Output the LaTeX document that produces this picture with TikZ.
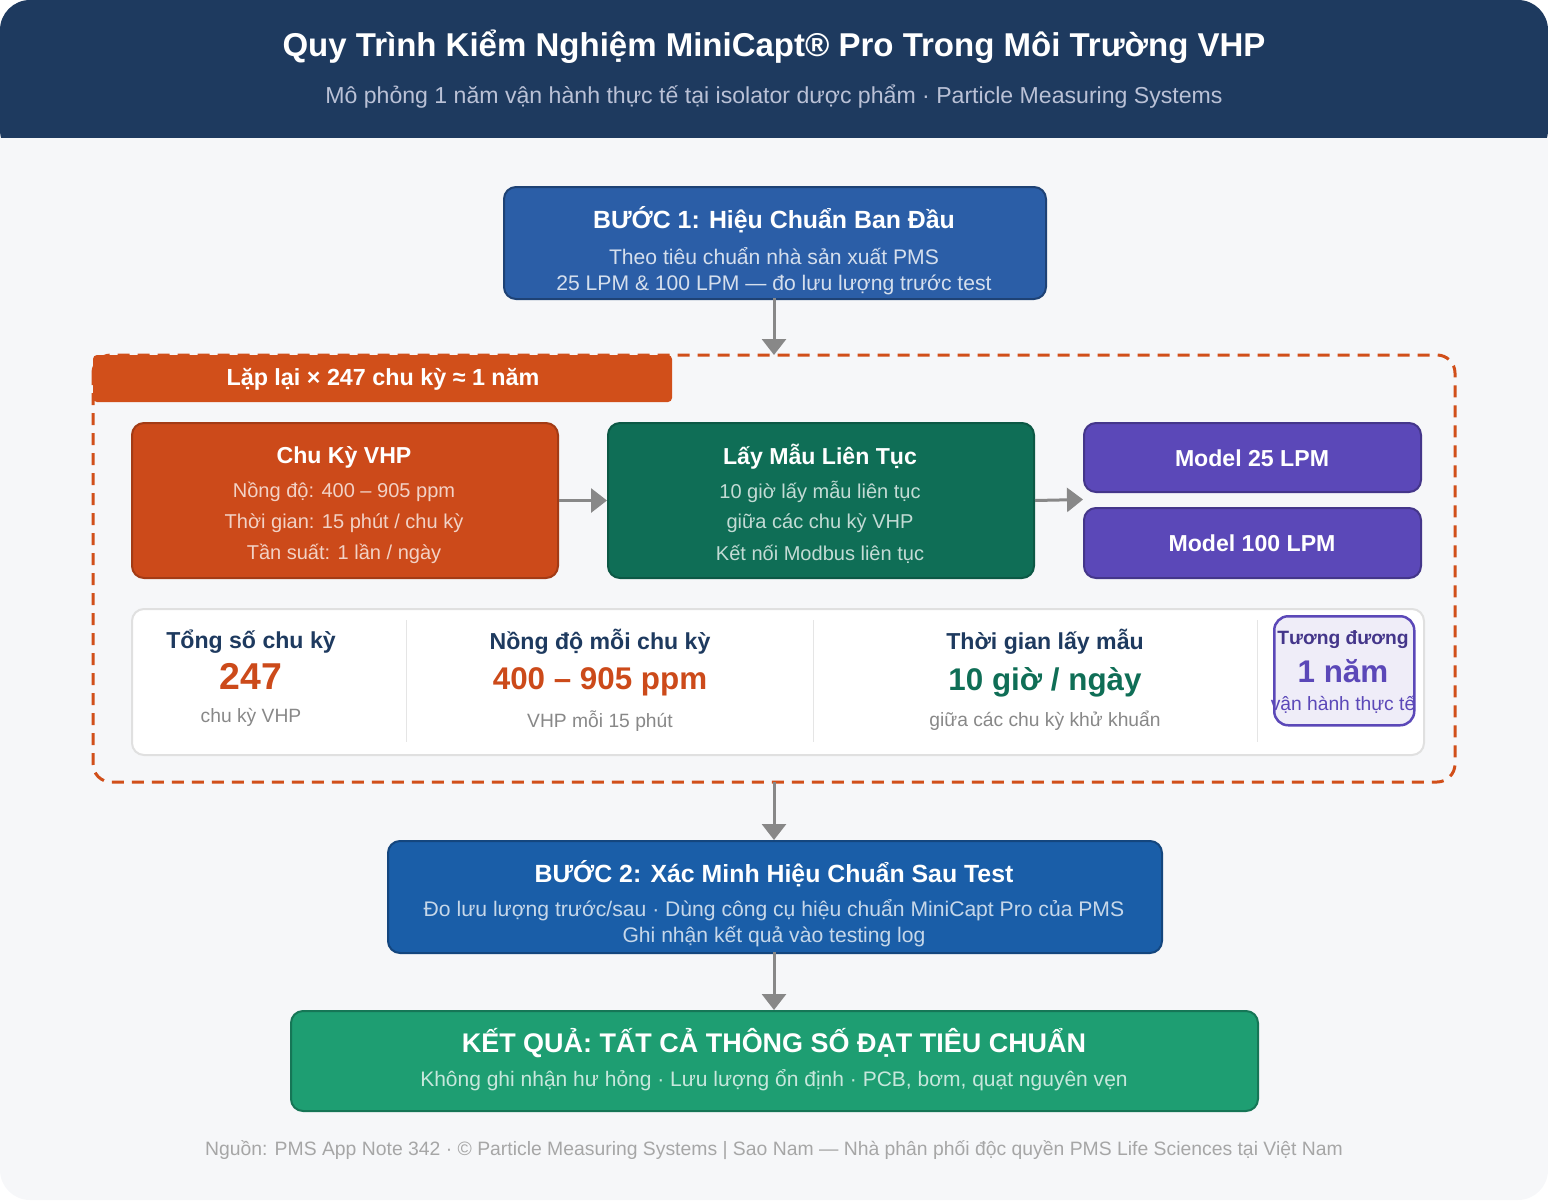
\documentclass[tikz,border=0pt]{standalone}
\usepackage{fontspec}
\setmainfont{Liberation Sans}
\usetikzlibrary{arrows.meta}
\definecolor{navy}{HTML}{1E3A5F}
\definecolor{pagebg}{HTML}{F6F7F9}
\definecolor{stepblue}{HTML}{2B5EA7}
\definecolor{steptwo}{HTML}{1A5EA8}
\definecolor{vhporange}{HTML}{CC4A1A}
\definecolor{dashorange}{HTML}{D14F1A}
\definecolor{samplegreen}{HTML}{0F6E56}
\definecolor{modelpurple}{HTML}{5B48B8}
\definecolor{resultgreen}{HTML}{1E9E72}
\definecolor{flowgrey}{HTML}{888888}
\newcommand{\fs}[1]{\fontsize{\fpeval{#1*1.1}}{\fpeval{#1*1.1}}\selectfont}
\tikzset{
  box/.style={draw, line width=2pt, rounded corners=12pt, anchor=north west, inner sep=0pt},
  flow/.style={draw=flowgrey, line width=3pt, -{Triangle[width=24pt,length=16pt]}},
  txt/.style={inner sep=0pt, anchor=center}
}
\begin{document}
\begin{tikzpicture}[x=1pt,y=-1pt]
	\useasboundingbox (0,0) rectangle (1548,1200);
	\fill [pagebg, rounded corners=30pt] (0,0) rectangle (1548,1200);
	\fill [navy, rounded corners=30pt] (0,0) rectangle (1548,160);
	\fill [pagebg] (0,138) rectangle (1548,170);
	\node [txt, white] (title) at (774,47) {\fs{30}\bfseries Quy Trình Kiểm Nghiệm MiniCapt® Pro Trong Môi Trường VHP};
	\node [txt, text=blue!15!navy!30!white] (subtitle) at (774,97) {\fs{21}Mô phỏng 1 năm vận hành thực tế tại isolator dược phẩm · Particle Measuring Systems};
	% step 1
	\node [box, fill=stepblue, draw=stepblue!70!black, minimum width=542pt, minimum height=112pt] (step1) at (503,186) {};
	\node [txt, white] at (774,220) {\fs{22.6}\bfseries BƯỚC 1: Hiệu Chuẩn Ban Đầu};
	\node [txt, text=white!80!stepblue] at (774,256) {\fs{19.2}Theo tiêu chuẩn nhà sản xuất PMS};
	\node [txt, text=white!80!stepblue] at (774,285) {\fs{19.2}25 LPM \& 100 LPM — đo lưu lượng trước test};
	% repeat loop
	\draw [dashorange, line width=3pt, dash pattern=on 12pt off 8pt, rounded corners=18pt] (93,355) rectangle (1455,782);
	\coordinate (looptop) at (774,355);
	\coordinate (loopbot) at (774,782);
	\fill [dashorange, rounded corners=4pt] (93,355) rectangle (672,402);
	\node [txt, white] (looplabel) at (383,379) {\fs{21.2}\bfseries Lặp lại × 247 chu kỳ ≈ 1 năm};
	\node [box, fill=vhporange, draw=vhporange!80!black, minimum width=426pt, minimum height=155pt] (vhp) at (131,422) {};
	\node [txt, white] at (344,457) {\fs{21}\bfseries Chu Kỳ VHP};
	\node [txt, text=white!75!vhporange] at (344,492) {\fs{18.2}Nồng độ: 400 – 905 ppm};
	\node [txt, text=white!75!vhporange] at (344,523) {\fs{18.2}Thời gian: 15 phút / chu kỳ};
	\node [txt, text=white!75!vhporange] at (344,554) {\fs{18.2}Tần suất: 1 lần / ngày};
	\node [box, fill=samplegreen, draw=samplegreen!80!black, minimum width=426pt, minimum height=155pt] (sample) at (607,422) {};
	\node [txt, white] at (820,457) {\fs{21}\bfseries Lấy Mẫu Liên Tục};
	\node [txt, text=white!75!samplegreen] at (820,492) {\fs{18.2}10 giờ lấy mẫu liên tục};
	\node [txt, text=white!75!samplegreen] at (820,523) {\fs{18.2}giữa các chu kỳ VHP};
	\node [txt, text=white!75!samplegreen] at (820,554) {\fs{18.2}Kết nối Modbus liên tục};
	\node [box, fill=modelpurple, draw=modelpurple!75!black, minimum width=337pt, minimum height=69pt] (m25) at (1083,422) {};
	\node [txt, white] at (1252,458) {\fs{21}\bfseries Model 25 LPM};
	\node [box, fill=modelpurple, draw=modelpurple!75!black, minimum width=337pt, minimum height=70pt] (m100) at (1083,507) {};
	\node [txt, white] at (1252,543) {\fs{21}\bfseries Model 100 LPM};
	\coordinate (models) at (1083,499.5);
	\draw [flow] (vhp.east) -- (sample.west);
	\draw [flow] (sample.east) -- (models);
	% stats panel
	\node [box, fill=white, draw=black!12, minimum width=1292pt, minimum height=146pt] (stats) at (131,608) {};
	\foreach \xd in {406,813,1257} \draw [black!10, line width=1pt] (\xd,620) -- (\xd,742);
	\node [txt, navy] at (251,642) {\fs{21}\bfseries Tổng số chu kỳ};
	\node [txt, vhporange] at (251,676) {\fs{34}\bfseries 247};
	\node [txt, flowgrey] at (251,717) {\fs{17.5}chu kỳ VHP};
	\node [txt, navy] at (600,642) {\fs{21}\bfseries Nồng độ mỗi chu kỳ};
	\node [txt, vhporange] at (600,682) {\fs{28.5}\bfseries 400 – 905 ppm};
	\node [txt, flowgrey] at (600,721) {\fs{17.5}VHP mỗi 15 phút};
	\node [txt, navy] at (1045,642) {\fs{21}\bfseries Thời gian lấy mẫu};
	\node [txt, samplegreen] at (1045,682) {\fs{28.5}\bfseries 10 giờ / ngày};
	\node [txt, flowgrey] at (1045,721) {\fs{17.5}giữa các chu kỳ khử khuẩn};
	\node [box, fill=modelpurple!10, draw=modelpurple, line width=2.5pt, rounded corners=14pt, minimum width=140pt, minimum height=109pt] (equiv) at (1273,615) {};
	\node [txt, text=modelpurple!75!black] at (1343,640) {\fs{17.5}\bfseries Tương đương};
	\node [txt, modelpurple] at (1343,671) {\fs{28.5}\bfseries 1 năm};
	\node [txt, modelpurple] at (1343,705) {\fs{17.5}vận hành thực tế};
	% step 2 and result
	\node [box, fill=steptwo, draw=steptwo!75!black, minimum width=774pt, minimum height=112pt] (step2) at (387,840) {};
	\node [txt, white] at (774,874) {\fs{22.6}\bfseries BƯỚC 2: Xác Minh Hiệu Chuẩn Sau Test};
	\node [txt, text=white!75!steptwo] at (774,910) {\fs{19.2}Đo lưu lượng trước/sau · Dùng công cụ hiệu chuẩn MiniCapt Pro của PMS};
	\node [txt, text=white!75!steptwo] at (774,937) {\fs{19.2}Ghi nhận kết quả vào testing log};
	\node [box, fill=resultgreen, draw=resultgreen!75!black, minimum width=967pt, minimum height=100pt] (result) at (290,1010) {};
	\node [txt, white] at (774,1043) {\fs{24.5}\bfseries KẾT QUẢ: TẤT CẢ THÔNG SỐ ĐẠT TIÊU CHUẨN};
	\node [txt, text=white!75!resultgreen] at (774,1080) {\fs{19.1}Không ghi nhận hư hỏng · Lưu lượng ổn định · PCB, bơm, quạt nguyên vẹn};
	\coordinate (step1bot) at (774,298);
	\coordinate (step2top) at (774,840);
	\coordinate (step2bot) at (774,952);
	\coordinate (resulttop) at (774,1010);
	\draw [flow] (step1bot) -- (looptop);
	\draw [flow] (loopbot) -- (step2top);
	\draw [flow] (step2bot) -- (resulttop);
	\node [txt, text=black!35] (footer) at (774,1150) {\fs{17.6}Nguồn: PMS App Note 342 · © Particle Measuring Systems | Sao Nam — Nhà phân phối độc quyền PMS Life Sciences tại Việt Nam};
\end{tikzpicture}
\end{document}
